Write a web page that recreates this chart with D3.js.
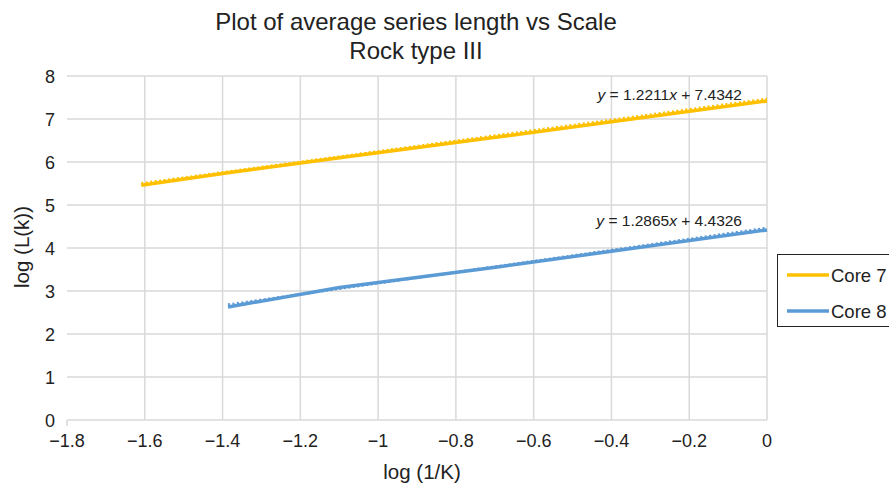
<!DOCTYPE html>
<meta charset="utf-8">
<head>
<script src="https://d3js.org/d3.v7.min.js"></script>
<style>
  body { margin: 0; background: #fff; }
  svg { font-family: "Liberation Sans", Arial, Helvetica, sans-serif; }
</style>
</head>
<body>
<div class="viz"></div>
<script>
// log(1/K) values and log(L(k)) per core
var core7X = [-1.609, -1.386, -1.099, -0.693, 0];
var core7Y = [5.46, 5.75, 6.10, 6.58, 7.42];
var core8X = [-1.386, -1.099, -0.693, 0];
var core8Y = [2.63, 3.08, 3.56, 4.42];
var trendSlopes = [1.2211, 1.2865];
var trendIntercepts = [7.4342, 4.4326];
var seriesNames = ["Core 7", "Core 8"];
var seriesColors = ["#FFC000", "#5B9BD5"];
var xTicks = [-1.8, -1.6, -1.4, -1.2, -1, -0.8, -0.6, -0.4, -0.2, 0];
var yTicks = [0, 1, 2, 3, 4, 5, 6, 7, 8];

var width = 889, height = 483;
var pLeft = 67, pRight = 767, pTop = 76, pBottom = 420;

var svg = d3.select("div.viz").append("svg")
    .attr("width", width)
    .attr("height", height);

var x = d3.scaleLinear().domain([-1.8, 0]).range([pLeft, pRight]);
var y = d3.scaleLinear().domain([0, 8]).range([pBottom, pTop]);

function fmt(v) {
    var s = d3.format("")(+v.toFixed(1));
    return v < 0 ? "\u2212" + s.slice(1) : s;
}

// grid
svg.append("g").selectAll("line").data(xTicks.slice(1)).enter().append("line")
    .attr("x1", d => x(d)).attr("x2", d => x(d))
    .attr("y1", pTop).attr("y2", pBottom)
    .style("stroke", "#d9d9d9").style("stroke-width", 1.5);
svg.append("g").selectAll("line").data(yTicks).enter().append("line")
    .attr("x1", pLeft).attr("x2", pRight)
    .attr("y1", d => y(d)).attr("y2", d => y(d))
    .style("stroke", "#d9d9d9").style("stroke-width", 1.5);
svg.append("line")
    .attr("x1", pLeft).attr("x2", pLeft).attr("y1", pBottom).attr("y2", pBottom + 6)
    .style("stroke", "#d9d9d9").style("stroke-width", 1.5);

// tick labels
svg.append("g").selectAll("text").data(xTicks).enter().append("text")
    .attr("x", d => x(d)).attr("y", 447)
    .attr("text-anchor", "middle")
    .style("font-size", "18px").style("fill", "#222")
    .text(fmt);
svg.append("g").selectAll("text").data(yTicks).enter().append("text")
    .attr("x", 55).attr("y", d => y(d) + 6.5)
    .attr("text-anchor", "end")
    .style("font-size", "18px").style("fill", "#222")
    .text(d => d);

// titles
svg.append("text").attr("x", 416).attr("y", 30).attr("text-anchor", "middle")
    .style("font-size", "24px").style("fill", "#222")
    .text("Plot of average series length vs Scale");
svg.append("text").attr("x", 416).attr("y", 59).attr("text-anchor", "middle")
    .style("font-size", "24px").style("fill", "#222")
    .text("Rock type III");
svg.append("text").attr("x", 422).attr("y", 479).attr("text-anchor", "middle")
    .style("font-size", "20.5px").style("fill", "#222")
    .text("log (1/K)");
svg.append("text").attr("transform", "translate(29,247) rotate(-90)")
    .attr("text-anchor", "middle")
    .style("font-size", "20.5px").style("fill", "#222")
    .text("log (L(k))");

var line = d3.line().x(d => x(d[0])).y(d => y(d[1]));
var series = [d3.zip(core7X, core7Y), d3.zip(core8X, core8Y)];

series.forEach(function(pts, i) {
    svg.append("path").datum(pts).attr("d", line)
        .style("fill", "none")
        .style("stroke", seriesColors[i])
        .style("stroke-width", 3.5)
        .style("stroke-linejoin", "round");
    var x0 = pts[0][0], x1 = pts[pts.length - 1][0];
    var tr = [x0, x1].map(v => [v, trendSlopes[i] * v + trendIntercepts[i]]);
    svg.append("path").datum(tr).attr("d", line)
        .style("fill", "none")
        .style("stroke", seriesColors[i])
        .style("stroke-width", 2.5)
        .style("stroke-dasharray", "2,2.5")
        .attr("transform", "translate(0,-1.5)");
});

// equations
var eqY = [100, 226];
eqY.forEach(function(yy, i) {
    var t = svg.append("text").attr("x", 742).attr("y", yy)
        .attr("text-anchor", "end")
        .style("font-size", "15.5px").style("fill", "#222");
    t.append("tspan").style("font-style", "italic").text("y");
    t.append("tspan").text(" = " + trendSlopes[i].toFixed(4));
    t.append("tspan").style("font-style", "italic").text("x");
    t.append("tspan").text(" + " + trendIntercepts[i].toFixed(4));
});

// legend
var lg = svg.append("g");
lg.append("rect").attr("x", 777.5).attr("y", 254.5).attr("width", 120).attr("height", 72)
    .style("fill", "#fff").style("stroke", "#222").style("stroke-width", 1);
seriesNames.forEach(function(n, i) {
    var yy = 275 + i * 36;
    lg.append("line").attr("x1", 787).attr("x2", 829).attr("y1", yy).attr("y2", yy)
        .style("stroke", seriesColors[i]).style("stroke-width", 3.5);
    lg.append("text").attr("x", 831).attr("y", yy + 6.5)
        .style("font-size", "18.5px").style("fill", "#222").text(n);
});
</script>
</body>
